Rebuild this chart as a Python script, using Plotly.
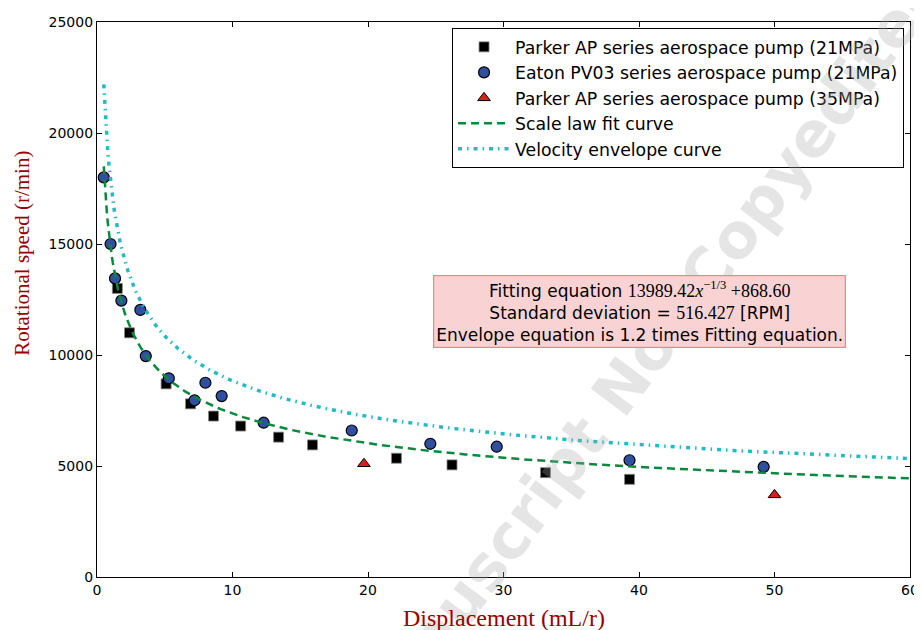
import numpy as np
import plotly.graph_objects as go

# ---- data ----
parker21_x = [1.5, 2.4, 5.1, 6.9, 8.6, 10.6, 13.4, 15.9, 22.1, 26.2, 33.1, 39.3]
parker21_y = [13000, 11000, 8700, 7800, 7250, 6800, 6300, 5950, 5350, 5050, 4700, 4400]

eaton_x = [0.5, 1.0, 1.33, 1.8, 3.2, 3.6, 5.3, 7.2, 8.0, 9.2, 12.3, 18.8, 24.6, 29.5, 39.3, 49.2]
eaton_y = [18000, 15000, 13450, 12450, 12030, 9950, 8950, 7960, 8750, 8150, 6950, 6600, 6000, 5870, 5260, 4960]

parker35_x = [19.7, 50.0]
parker35_y = [5100, 3700]

# fitted scale law shown in the chart: y = A * x^(-1/3) + B, envelope = 1.2 * fit
FIT_A = 13989.42
FIT_B = 868.60
STD_DEV = 516.427
ENVELOPE_FACTOR = 1.2
CURVE_X_START = 0.5
CURVE_X_END = 60

curve_x = np.linspace(CURVE_X_START, CURVE_X_END, 800)
fit_y = FIT_A * curve_x ** (-1.0 / 3.0) + FIT_B
env_y = ENVELOPE_FACTOR * fit_y

x_ticks = [0, 10, 20, 30, 40, 50, 60]
y_ticks = [0, 5000, 10000, 15000, 20000, 25000]

fig = go.Figure()

fig.add_trace(go.Scatter(
    x=parker21_x, y=parker21_y, mode="markers",
    name="Parker AP series aerospace pump (21MPa)",
    marker=dict(symbol="square", size=10, color="black",
                line=dict(color="#888888", width=0.8)),
    legendgroup="a"))
fig.add_trace(go.Scatter(
    x=eaton_x, y=eaton_y, mode="markers",
    name="Eaton PV03 series aerospace pump (21MPa)",
    marker=dict(symbol="circle", size=11, color="#30509f",
                line=dict(color="black", width=1.2)),
    legendgroup="b"))
fig.add_trace(go.Scatter(
    x=parker35_x, y=parker35_y, mode="markers",
    name="Parker AP series aerospace pump (35MPa)",
    marker=dict(symbol="triangle-up", size=11, color="#d81e1e",
                line=dict(color="black", width=1)),
    legendgroup="c"))
fig.add_trace(go.Scatter(
    x=curve_x, y=fit_y, mode="lines",
    name="Scale law fit curve",
    line=dict(color="#078a3e", width=2.5, dash="8px,5px"),
    legendgroup="d"))
fig.add_trace(go.Scatter(
    x=curve_x, y=env_y, mode="lines",
    name="Velocity envelope curve",
    line=dict(color="#1fbcc4", width=3.5, dash="4px,5px,1.5px,5px"),
    legendgroup="e"))

serif = "'Liberation Serif', 'DejaVu Serif', serif"
ann_text = (
    "Fitting equation <span style=\"font-family:" + serif + "; font-size:18px\">"
    + f"{FIT_A:.2f}<i>x</i><sup>−1/3</sup> +{FIT_B:.2f}</span><br>"
    + "Standard deviation = <span style=\"font-family:" + serif + "; font-size:18px\">"
    + f"{STD_DEV}</span> [RPM]<br>"
    + f"Envelope equation is {ENVELOPE_FACTOR} times Fitting equation."
)

# watermark (faint)
fig.add_annotation(
    x=0.674, y=0.40, xref="paper", yref="paper",
    xanchor="center", yanchor="middle",
    text="<b>Manuscript Not Copyedited</b>", showarrow=False,
    textangle=-53,
    font=dict(family="DejaVu Sans", size=62, color="rgba(170,170,170,0.3)"),
)

fig.add_annotation(
    x=0.667, y=0.479, xref="paper", yref="paper",
    xanchor="center", yanchor="middle",
    text=ann_text, showarrow=False, align="center",
    font=dict(family="DejaVu Sans", size=17, color="black"),
    bgcolor="#f9d3d3", bordercolor="#e08a8a", borderwidth=1.2, borderpad=2,
)

# axis titles
fig.add_annotation(
    x=0.5006, y=-0.074, xref="paper", yref="paper",
    xanchor="center", yanchor="middle", showarrow=False,
    text="Displacement (mL/r)",
    font=dict(family="Liberation Serif", size=24, color="#990000"),
)
fig.add_annotation(
    x=-0.0923, y=0.584, xref="paper", yref="paper",
    xanchor="center", yanchor="middle", showarrow=False, textangle=-90,
    text="Rotational speed (r/min)",
    font=dict(family="Liberation Serif", size=21, color="#990000"),
)

axis_common = dict(
    showline=True, linecolor="black", linewidth=1.3, mirror="ticks",
    ticks="inside", ticklen=5, tickwidth=1, tickcolor="black",
    showgrid=False, zeroline=False, automargin=False,
    tickfont=dict(family="DejaVu Sans", size=14, color="black"),
)

# page body adds an 8px offset; the figure is sized so the plot area lands
# at x 97..910, y 22..577 of the 922x630 window
fig.update_layout(
    width=914, height=622,
    margin=dict(l=89, r=12, t=14, b=53),
    paper_bgcolor="white", plot_bgcolor="white",
    xaxis=dict(range=[0, 60], tickvals=x_ticks, tickformat="d", **axis_common),
    yaxis=dict(range=[0, 25000], tickvals=y_ticks, tickformat="d", **axis_common),
    legend=dict(x=0.4367, y=0.989, xanchor="left", yanchor="top",
                bgcolor="white", bordercolor="black", borderwidth=1,
                font=dict(family="DejaVu Sans", size=17.3, color="black"),
                traceorder="grouped", tracegroupgap=0, itemwidth=52),
    showlegend=True,
)

fig.write_html("out.html")
